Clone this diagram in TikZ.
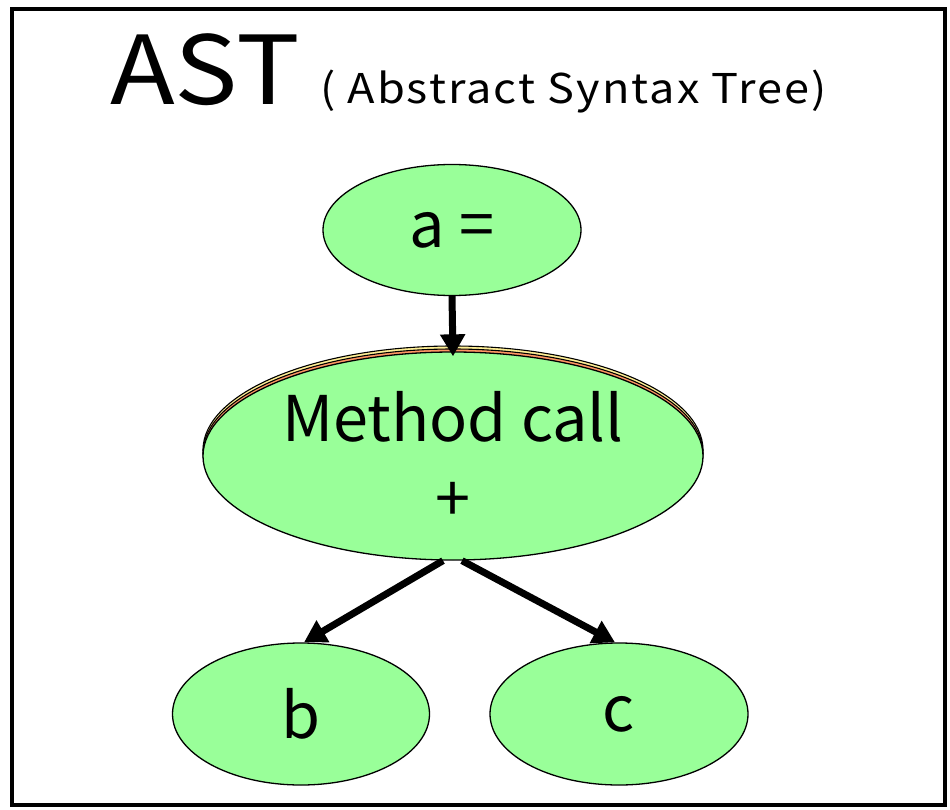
\documentclass[tikz,border=0pt]{standalone}
\usepackage{fontspec}
\setmainfont{Noto Sans CJK JP}
\newfontfamily\titlefont[FakeStretch=1.12]{Noto Sans CJK JP}
\newfontfamily\subtitlefont[FakeStretch=1.1,LetterSpace=5]{Noto Sans CJK JP}
\usetikzlibrary{shapes.geometric,arrows.meta}
\definecolor{nodegreen}{RGB}{153,255,153}
\definecolor{layerorange}{RGB}{255,150,100}
\definecolor{layeryellow}{RGB}{255,240,150}
\tikzset{
  treenode/.style={ellipse,draw=black,line width=1.3pt,fill=nodegreen,inner sep=0pt,
    font=\fontsize{63}{80}\selectfont,align=center},
  layer/.style={ellipse,draw=black,line width=1.1pt,inner sep=0pt},
  treeedge/.style={line width=7pt,-{Triangle[width=24pt,length=22pt]}}
}
\begin{document}
\begin{tikzpicture}[x=1pt,y=-1pt]
\useasboundingbox (0,0) rectangle (950,810);
% outer frame
\draw[line width=4.5pt] (12,9) rectangle (945,805);
% title
\node[anchor=base west,inner sep=0pt,font=\titlefont\fontsize{95}{100}\selectfont] (title) at (110,105) {AST};
\node[anchor=base west,inner sep=0pt,font=\subtitlefont\fontsize{41}{48}\selectfont] (subtitle) at (320,104) {( Abstract Syntax Tree)};
% stacked layers behind the method-call node
\node[layer,fill=layeryellow,minimum width=500pt,minimum height=208pt] (m2) at (453,450) {};
\node[layer,fill=layerorange,minimum width=500pt,minimum height=208pt] (m1) at (453,453) {};
% tree nodes
\node[treenode,minimum width=258pt,minimum height=131pt] (a) at (452,230) {a =};
\node[treenode,minimum width=500pt,minimum height=208pt] (m) at (453,456) {Method call\\+};
\node[treenode,minimum width=257pt,minimum height=142pt] (b) at (301,714) {b};
\node[treenode,minimum width=258pt,minimum height=142pt] (c) at (619,714) {c};
% edges
\draw[treeedge] (a.south) -- ([yshift=-5pt]m.north);
\draw[treeedge] ([xshift=-10pt]m.south) -- ([xshift=3pt]b.north);
\draw[treeedge] ([xshift=9pt]m.south) -- ([xshift=-4pt]c.north);
\end{tikzpicture}
\end{document}
